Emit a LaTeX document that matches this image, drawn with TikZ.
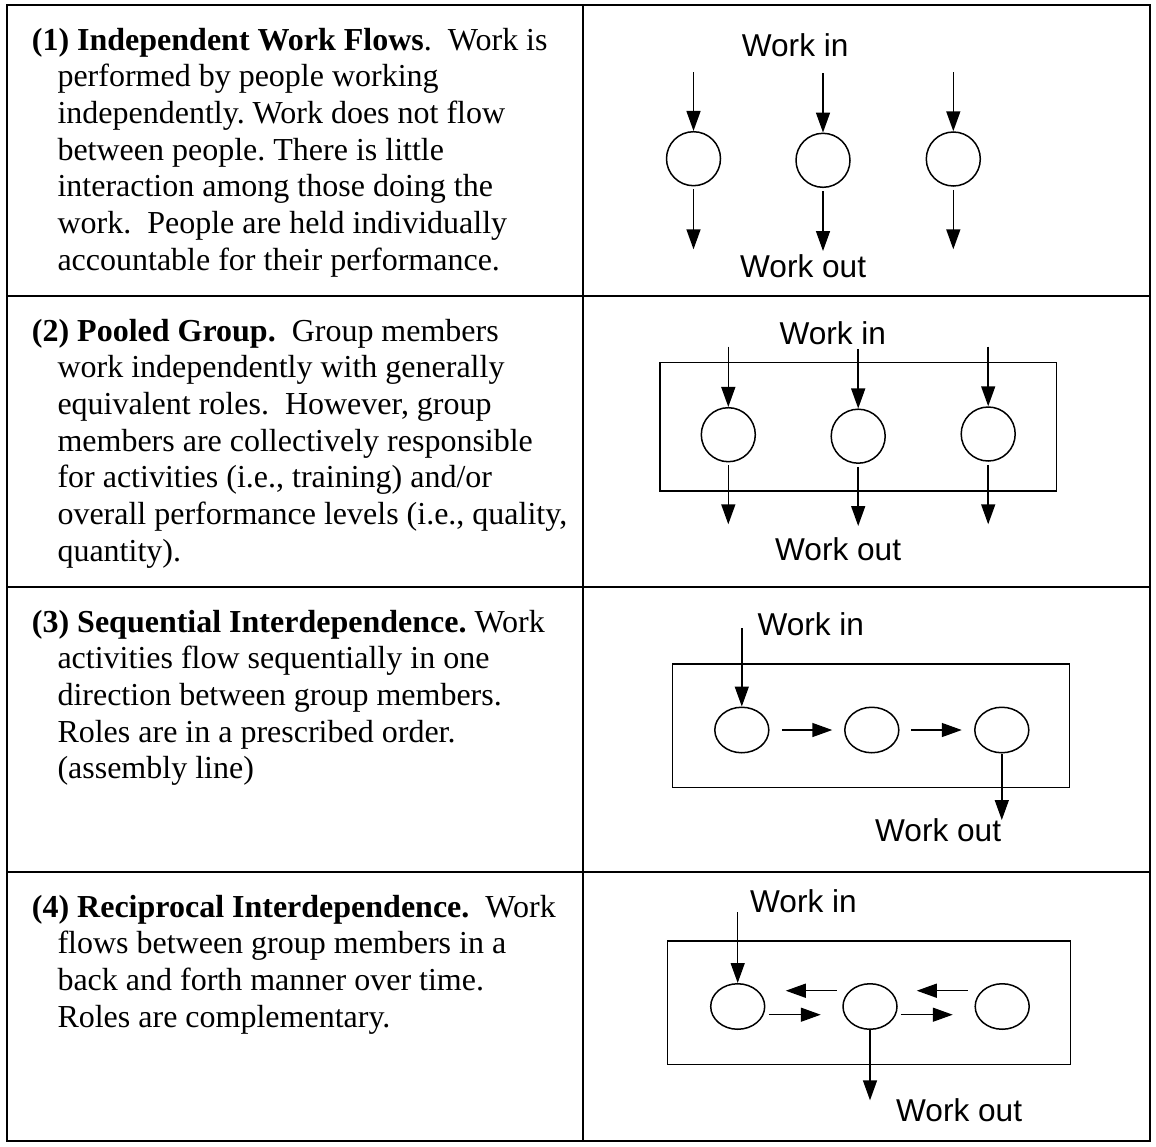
\documentclass[tikz,border=0pt]{standalone}
\usepackage{fontspec}
\setmainfont{Liberation Serif}
\newfontfamily\diagfont{Liberation Sans}
\usetikzlibrary{arrows.meta,shapes.geometric}
\frenchspacing

\begin{document}
\frenchspacing
\begin{tikzpicture}[x=1pt,y=-1pt,
  txt/.style={anchor=base west,inner sep=0pt,font=\fontsize{32}{36.7}\selectfont},
  lbl/.style={anchor=base west,inner sep=0pt,font=\diagfont\fontsize{31.6}{36.7}\selectfont},
  grid/.style={line width=2pt},
  flow/.style={line width=1.5pt,-{Triangle[length=20pt,width=14pt]}},
  member/.style={circle,draw,line width=1.5pt,minimum size=54pt,inner sep=0pt},
  oval/.style={ellipse,draw,line width=1.5pt,minimum width=54pt,minimum height=45.5pt,inner sep=0pt},
  group/.style={line width=1.5pt}]

\useasboundingbox (0,0) rectangle (1156,1146);
\fill[white] (0,0) rectangle (1156,1146);

% table frame
\draw[grid] (6.7,5) rectangle (1150,1141);
\draw[grid] (582.7,5) -- (582.7,1141);
\draw[grid] (6.7,296) -- (1150,296);
\draw[grid] (6.7,587) -- (1150,587);
\draw[grid] (6.7,872) -- (1150,872);

% ---------- descriptions ----------
\node[txt] (r1l0) at (31.7,50) {\textbf{(1) Independent Work Flows}.\ \ Work is};
\foreach [count=\i] \t in {{performed by people working},
  {independently. Work does not flow},
  {between people. There is little},
  {interaction among those doing the},
  {work.\ \ People are held individually},
  {accountable for their performance.}}
  \node[txt] (r1l\i) at (57.3,50+36.7*\i) {\t};

\node[txt] (r2l0) at (31.7,341) {\textbf{(2) Pooled Group.}\ \ Group members};
\foreach [count=\i] \t in {{work independently with generally},
  {equivalent roles.\ \ However, group},
  {members are collectively responsible},
  {for activities (i.e., training) and/or},
  {overall performance levels (i.e., quality,},
  {quantity).}}
  \node[txt] (r2l\i) at (57.3,341+36.7*\i) {\t};

\node[txt] (r3l0) at (31.7,632) {\textbf{(3) Sequential Interdependence.} Work};
\foreach [count=\i] \t in {{activities flow sequentially in one},
  {direction between group members.},
  {Roles are in a prescribed order.},
  {(assembly line)}}
  \node[txt] (r3l\i) at (57.3,632+36.7*\i) {\t};

\node[txt] (r4l0) at (31.7,917) {\textbf{(4) Reciprocal Interdependence.}\ \ Work};
\foreach [count=\i] \t in {{flows between group members in a},
  {back and forth manner over time.},
  {Roles are complementary.}}
  \node[txt] (r4l\i) at (57.3,917+36.7*\i) {\t};

% ---------- (1) independent work flows ----------
\node[lbl] (in1) at (741.7,56.7) {Work in};
\node[lbl] (out1) at (740,277.7) {Work out};
\node[member] (c11) at (693.5,158.7) {};
\node[member] (c12) at (823,160.3) {};
\node[member] (c13) at (953.3,159) {};
\coordinate (s11) at (693.5,72);
\coordinate (s12) at (823,73.3);
\coordinate (s13) at (953.3,72);
\coordinate (t11) at (693.5,249.3);
\coordinate (t12) at (823,251);
\coordinate (t13) at (953.3,249.3);
\foreach \k in {1,2,3} {
  \draw[flow] (s1\k) -- (c1\k.north);
  \draw[flow,shorten <=3pt] (c1\k.south) -- (t1\k);
}

% ---------- (2) pooled group ----------
\draw[group] (660,362.7) rectangle (1056.7,491);
\node[lbl] (in2) at (779.3,344.3) {Work in};
\node[lbl] (out2) at (775,560.7) {Work out};
\node[member] (c21) at (728.3,434.7) {};
\node[member] (c22) at (858.2,436.2) {};
\node[member] (c23) at (988.2,434) {};
\coordinate (s21) at (728.3,346.7);
\coordinate (s22) at (858.2,349);
\coordinate (s23) at (988.2,346.7);
\coordinate (t21) at (728.3,524.3);
\coordinate (t22) at (858.2,526);
\coordinate (t23) at (988.2,524.3);
\foreach \k in {1,2,3} {
  \draw[flow] (s2\k) -- (c2\k.north);
  \draw[flow,shorten <=3pt] (c2\k.south) -- (t2\k);
}

% ---------- (3) sequential interdependence ----------
\draw[group] (672.3,664) rectangle (1069.3,787.7);
\node[lbl] (in3) at (757.3,635) {Work in};
\node[lbl] (out3) at (875,841.7) {Work out};
\node[oval] (e31) at (741.8,730) {};
\node[oval] (e32) at (871.8,730) {};
\node[oval] (e33) at (1001.8,730) {};
\coordinate (s3) at (741.8,628.3);
\coordinate (t3) at (1001.8,820);
\draw[flow] (s3) -- (e31.north);
\draw[flow,shorten <=12.4pt,shorten >=11.8pt] (e31.east) -- (e32.west);
\draw[flow,shorten <=11.5pt,shorten >=12.3pt] (e32.east) -- (e33.west);
\draw[flow] (e33.south) -- (t3);

% ---------- (4) reciprocal interdependence ----------
\draw[group] (667.7,941) rectangle (1070.7,1064.7);
\node[lbl] (in4) at (750,912.7) {Work in};
\node[lbl] (out4) at (896,1121.7) {Work out};
\node[oval] (e41) at (737.7,1006.5) {};
\node[oval] (e42) at (870,1006.5) {};
\node[oval] (e43) at (1002.2,1006.5) {};
\coordinate (s4) at (737.7,912);
\coordinate (t4) at (870,1100.3);
\draw[flow] (s4) -- (e41.north);
% backward flows (upper)
\draw[flow,shorten <=5.5pt,shorten >=20.3pt] ([yshift=15.8pt]e42.west) -- ([yshift=15.8pt]e41.east);
\draw[flow,shorten <=6.7pt,shorten >=19pt] ([yshift=15.8pt]e43.west) -- ([yshift=15.8pt]e42.east);
% forward flows (lower)
\draw[flow,shorten <=3.5pt,shorten >=21.5pt] ([yshift=-8.2pt]e41.east) -- ([yshift=-8.2pt]e42.west);
\draw[flow,shorten <=3.2pt,shorten >=21.7pt] ([yshift=-8.2pt]e42.east) -- ([yshift=-8.2pt]e43.west);
\draw[flow] (e42.south) -- (t4);

\end{tikzpicture}
\end{document}
